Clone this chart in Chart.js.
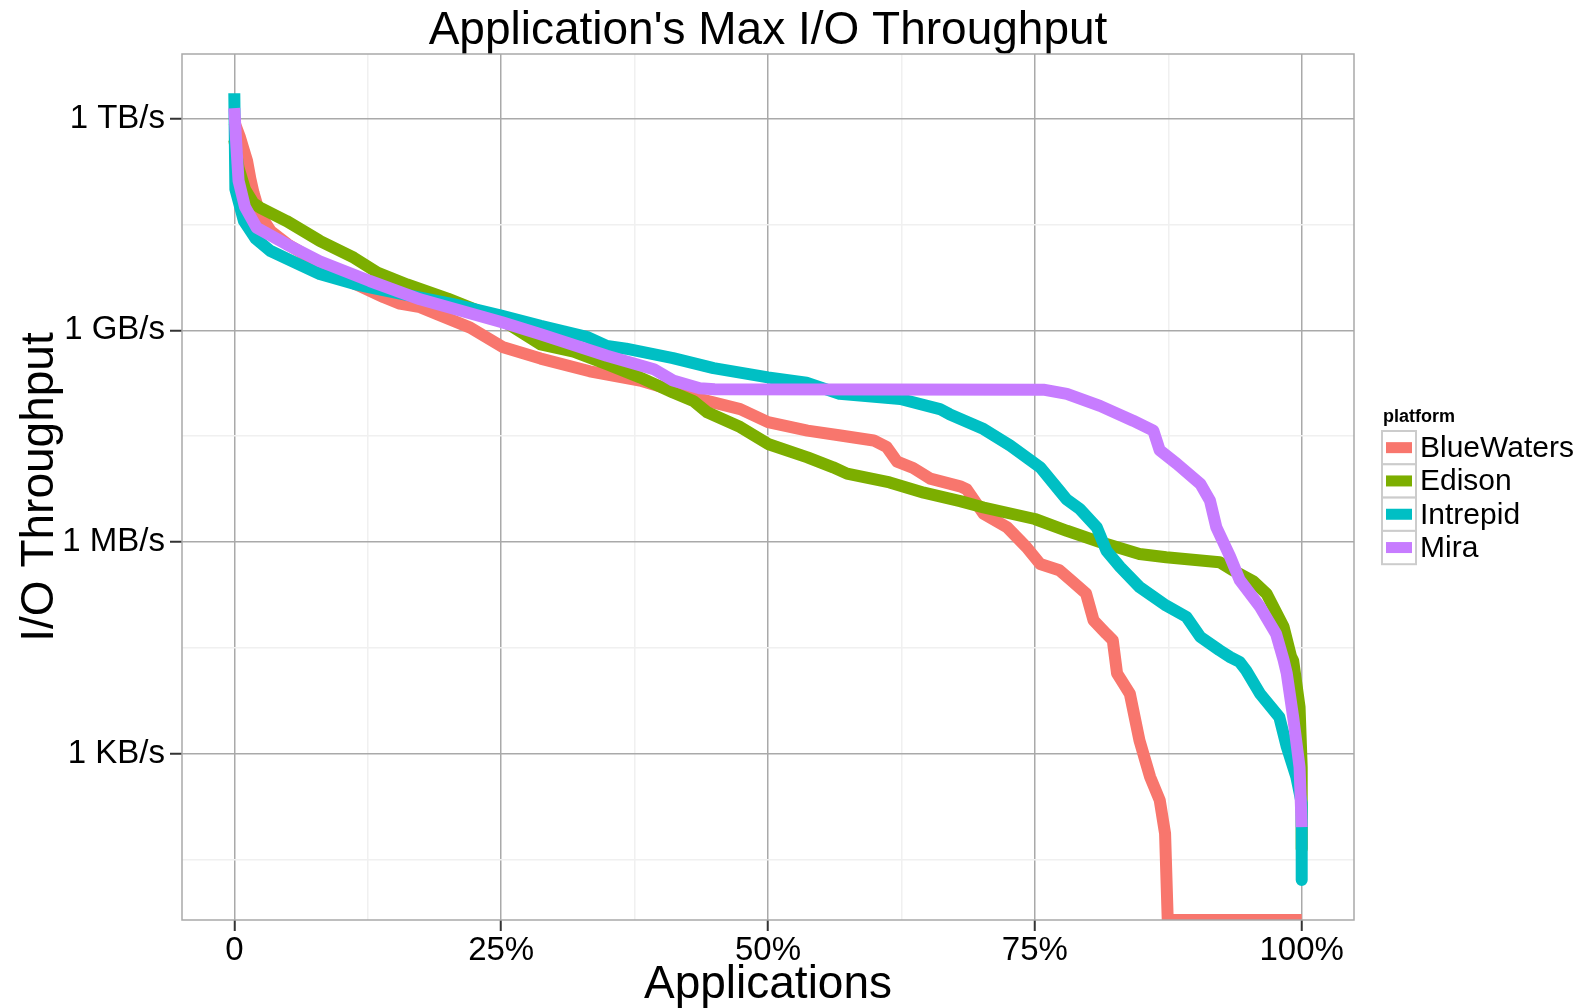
<!DOCTYPE html>
<html>
<head>
<meta charset="utf-8">
<title>Application's Max I/O Throughput</title>
<script src="https://cdn.jsdelivr.net/npm/chart.js@4.4.1/dist/chart.umd.min.js"></script>
<style>
    html, body { margin: 0; padding: 0; background: #fff; }
    #wrap { width: 1585px; height: 1008px; }
</style>
</head>
<body>
<div id="wrap"><canvas id="chart" width="1585" height="1008"></canvas></div>

<script type="text/javascript">
    // share of applications (0..1) and log10 of max throughput (bytes/s)
    var blueWatersX = [0, 0.005, 0.009, 0.012, 0.015, 0.018, 0.024, 0.034, 0.05, 0.08, 0.11, 0.14, 0.155, 0.174, 0.19, 0.221, 0.252, 0.287, 0.333, 0.38, 0.411, 0.443, 0.474, 0.5, 0.537, 0.568, 0.599, 0.611, 0.621, 0.636, 0.652, 0.68, 0.686, 0.702, 0.724, 0.742, 0.755, 0.773, 0.786, 0.798, 0.805, 0.817, 0.823, 0.827, 0.839, 0.848, 0.858, 0.867, 0.872, 0.8745, 1.0];
    var blueWatersLog = [11.95, 11.75, 11.55, 11.4, 11.15, 10.95, 10.64, 10.41, 10.22, 9.95, 9.68, 9.47, 9.38, 9.33, 9.23, 9.04, 8.76, 8.6, 8.42, 8.29, 8.15, 8.0, 7.885, 7.7, 7.58, 7.51, 7.44, 7.35, 7.14, 7.05, 6.9, 6.79, 6.75, 6.4, 6.21, 5.93, 5.69, 5.6, 5.43, 5.27, 4.89, 4.7, 4.61, 4.14, 3.85, 3.19, 2.67, 2.34, 1.87, 0.644, 0.644];

    var edisonX = [0, 0.004, 0.01, 0.018, 0.024, 0.049, 0.08, 0.112, 0.134, 0.162, 0.2, 0.252, 0.287, 0.318, 0.349, 0.38, 0.411, 0.43, 0.443, 0.474, 0.5, 0.537, 0.561, 0.574, 0.614, 0.646, 0.68, 0.702, 0.75, 0.78, 0.811, 0.848, 0.873, 0.923, 0.936, 0.955, 0.967, 0.983, 0.99, 0.992, 0.998, 1.0, 1.0];
    var edisonLog = [11.7, 11.3, 11.0, 10.8, 10.74, 10.55, 10.27, 10.03, 9.82, 9.65, 9.45, 9.135, 8.8, 8.7, 8.52, 8.334, 8.12, 8.0, 7.84, 7.63, 7.39, 7.2, 7.06, 6.97, 6.845, 6.7, 6.58, 6.49, 6.327, 6.16, 6.0, 5.83, 5.786, 5.715, 5.597, 5.44, 5.27, 4.8, 4.38, 4.32, 3.66, 2.81, 1.65];

    var intrepidX = [0, 0.001, 0.009, 0.02, 0.034, 0.064, 0.08, 0.112, 0.127, 0.159, 0.206, 0.25, 0.287, 0.33, 0.349, 0.367, 0.411, 0.449, 0.5, 0.536, 0.567, 0.624, 0.661, 0.67, 0.702, 0.727, 0.755, 0.773, 0.78, 0.792, 0.808, 0.817, 0.83, 0.848, 0.873, 0.892, 0.905, 0.923, 0.933, 0.942, 0.948, 0.961, 0.979, 0.986, 0.995, 1.0, 1.0];
    var intrepidLog = [12.36, 11.0, 10.55, 10.3, 10.125, 9.91, 9.8, 9.66, 9.61, 9.51, 9.37, 9.21, 9.064, 8.91, 8.78, 8.74, 8.607, 8.465, 8.333, 8.26, 8.1, 8.027, 7.885, 7.813, 7.601, 7.366, 7.06, 6.73, 6.6, 6.47, 6.209, 5.88, 5.646, 5.363, 5.1, 4.94, 4.656, 4.467, 4.37, 4.3, 4.18, 3.85, 3.52, 3.1, 2.67, 2.3, 1.21];

    var miraX = [0, 0.002, 0.004, 0.01, 0.021, 0.049, 0.08, 0.127, 0.174, 0.25, 0.287, 0.349, 0.393, 0.411, 0.436, 0.45, 0.758, 0.78, 0.811, 0.842, 0.861, 0.867, 0.883, 0.905, 0.914, 0.92, 0.933, 0.942, 0.961, 0.976, 0.983, 0.986, 0.992, 0.998, 1.0];
    var miraLog = [12.15, 11.6, 11.12, 10.75, 10.455, 10.22, 9.98, 9.7, 9.44, 9.12, 8.946, 8.64, 8.45, 8.29, 8.18, 8.165, 8.16, 8.1, 7.93, 7.72, 7.58, 7.3, 7.11, 6.825, 6.59, 6.21, 5.79, 5.46, 5.08, 4.7, 4.33, 4.14, 3.52, 2.81, 1.96];

    var platforms = ['BlueWaters', 'Edison', 'Intrepid', 'Mira'];
    var platformColors = ['#F8766D', '#7CAE00', '#00BFC4', '#C77CFF'];

    var xMajor = [0, 0.25, 0.5, 0.75, 1];
    var xMinor = [0.125, 0.375, 0.625, 0.875];
    var xTickLabels = ['0', '25%', '50%', '75%', '100%'];
    var yMajorExp = [3, 6, 9, 12];
    var yMinorExp = [1.5, 4.5, 7.5, 10.5];
    var yTickLabels = ['1 KB/s', '1 MB/s', '1 GB/s', '1 TB/s'];

    var FONT = '"Liberation Sans", Arial, Helvetica, sans-serif';

    function toPoints(xs, logs) {
        return xs.map(function (x, i) { return { x: x, y: Math.pow(10, logs[i]) }; });
    }
    function isMajorX(v) {
        return xMajor.some(function (m) { return Math.abs(m - v) < 1e-9; });
    }
    function isMajorY(v) {
        var e = Math.log10(v);
        return yMajorExp.some(function (m) { return Math.abs(m - e) < 1e-6; });
    }

    var seriesX = [blueWatersX, edisonX, intrepidX, miraX];
    var seriesLog = [blueWatersLog, edisonLog, intrepidLog, miraLog];

    var datasets = platforms.map(function (name, i) {
        return {
            label: name,
            data: toPoints(seriesX[i], seriesLog[i]),
            borderColor: platformColors[i],
            backgroundColor: platformColors[i],
            borderWidth: 12,
            borderCapStyle: 'butt',
            borderJoinStyle: 'round',
            pointRadius: 0,
            tension: 0,
            fill: false,
            clip: 0,
            order: platforms.length - i   // Mira drawn last, on top
        };
    });

    // panel border on top of the lines, ggplot style
    var panelBorder = {
        id: 'panelBorder',
        afterDatasetsDraw: function (chart) {
            var a = chart.chartArea, ctx = chart.ctx;
            ctx.save();
            ctx.strokeStyle = '#a9a9a9';
            ctx.lineWidth = 1.5;
            ctx.strokeRect(a.left, a.top, a.right - a.left, a.bottom - a.top);
            ctx.restore();
        }
    };

    // legend drawn by hand to get the ggplot key boxes
    var ggLegend = {
        id: 'ggLegend',
        afterDraw: function (chart) {
            var ctx = chart.ctx;
            var left = 1382, top = 431, keyW = 34, keyH = 33.3;
            ctx.save();
            ctx.fillStyle = '#000';
            ctx.font = 'bold 18px ' + FONT;
            ctx.textBaseline = 'alphabetic';
            ctx.textAlign = 'left';
            ctx.fillText('platform', left + 1, 422);
            ctx.font = '30px ' + FONT;
            ctx.textBaseline = 'middle';
            platforms.forEach(function (name, i) {
                var y = top + i * keyH;
                ctx.fillStyle = '#fff';
                ctx.fillRect(left, y, keyW, keyH);
                ctx.strokeStyle = '#cccccc';
                ctx.lineWidth = 2;
                ctx.strokeRect(left, y, keyW, keyH);
                ctx.fillStyle = platformColors[i];
                ctx.fillRect(left + 4, y + keyH / 2 - 5.5, keyW - 8, 11);
                ctx.fillStyle = '#000';
                ctx.fillText(name, left + keyW + 4, y + keyH / 2 + 1);
            });
            ctx.restore();
        }
    };

    new Chart(document.getElementById('chart').getContext('2d'), {
        type: 'line',
        data: { datasets: datasets },
        plugins: [panelBorder, ggLegend],
        options: {
            responsive: false,
            animation: false,
            devicePixelRatio: 1,
            layout: { padding: { left: 0, top: 0, right: 231, bottom: 0 } },
            plugins: {
                legend: { display: false },
                tooltip: { enabled: false },
                title: {
                    display: true,
                    fullSize: false,
                    text: "Application's Max I/O Throughput",
                    color: '#000',
                    font: { family: FONT, size: 46, weight: 'normal', lineHeight: 1 },
                    padding: { top: 8, bottom: 0 }
                }
            },
            scales: {
                x: {
                    type: 'linear',
                    min: -0.049,
                    max: 1.049,
                    afterBuildTicks: function (scale) {
                        scale.ticks = xMajor.concat(xMinor).sort(function (a, b) { return a - b; })
                            .map(function (v) { return { value: v }; });
                    },
                    afterFit: function (scale) { scale.height = 88; },
                    ticks: {
                        autoSkip: false,
                        maxRotation: 0,
                        padding: 0,
                        color: '#000',
                        font: { family: FONT, size: 33 },
                        callback: function (v) {
                            var i = xMajor.findIndex(function (m) { return Math.abs(m - v) < 1e-9; });
                            return i >= 0 ? xTickLabels[i] : '';
                        }
                    },
                    grid: {
                        color: function (c) { return c.tick && isMajorX(c.tick.value) ? '#a9a9a9' : '#f0f0f0'; },
                        lineWidth: 1.5,
                        tickLength: 11,
                        tickWidth: 2,
                        tickColor: function (c) { return c.tick && isMajorX(c.tick.value) ? '#333333' : 'rgba(0,0,0,0)'; }
                    },
                    border: { display: false },
                    title: {
                        display: true,
                        text: 'Applications',
                        color: '#000',
                        font: { family: FONT, size: 46, lineHeight: 1 },
                        padding: { top: 0, bottom: 0 }
                    }
                },
                y: {
                    type: 'logarithmic',
                    min: Math.pow(10, 0.644),
                    max: Math.pow(10, 12.917),
                    afterBuildTicks: function (scale) {
                        scale.ticks = yMinorExp.concat(yMajorExp).sort(function (a, b) { return a - b; })
                            .map(function (e) { return { value: Math.pow(10, e) }; });
                    },
                    afterFit: function (scale) { scale.width = 182; },
                    ticks: {
                        autoSkip: false,
                        padding: 5,
                        color: '#000',
                        font: { family: FONT, size: 33 },
                        callback: function (v) {
                            var e = Math.log10(v);
                            var i = yMajorExp.findIndex(function (m) { return Math.abs(m - e) < 1e-6; });
                            return i >= 0 ? yTickLabels[i] : '';
                        }
                    },
                    grid: {
                        color: function (c) { return c.tick && isMajorY(c.tick.value) ? '#a9a9a9' : '#f0f0f0'; },
                        lineWidth: 1.5,
                        tickLength: 12,
                        tickWidth: 2,
                        tickColor: function (c) { return c.tick && isMajorY(c.tick.value) ? '#333333' : 'rgba(0,0,0,0)'; }
                    },
                    border: { display: false },
                    title: {
                        display: true,
                        text: 'I/O Throughput',
                        color: '#000',
                        font: { family: FONT, size: 46, lineHeight: 1 },
                        padding: { top: 17, bottom: 0 }
                    }
                }
            }
        }
    });
</script>
</body>
</html>
